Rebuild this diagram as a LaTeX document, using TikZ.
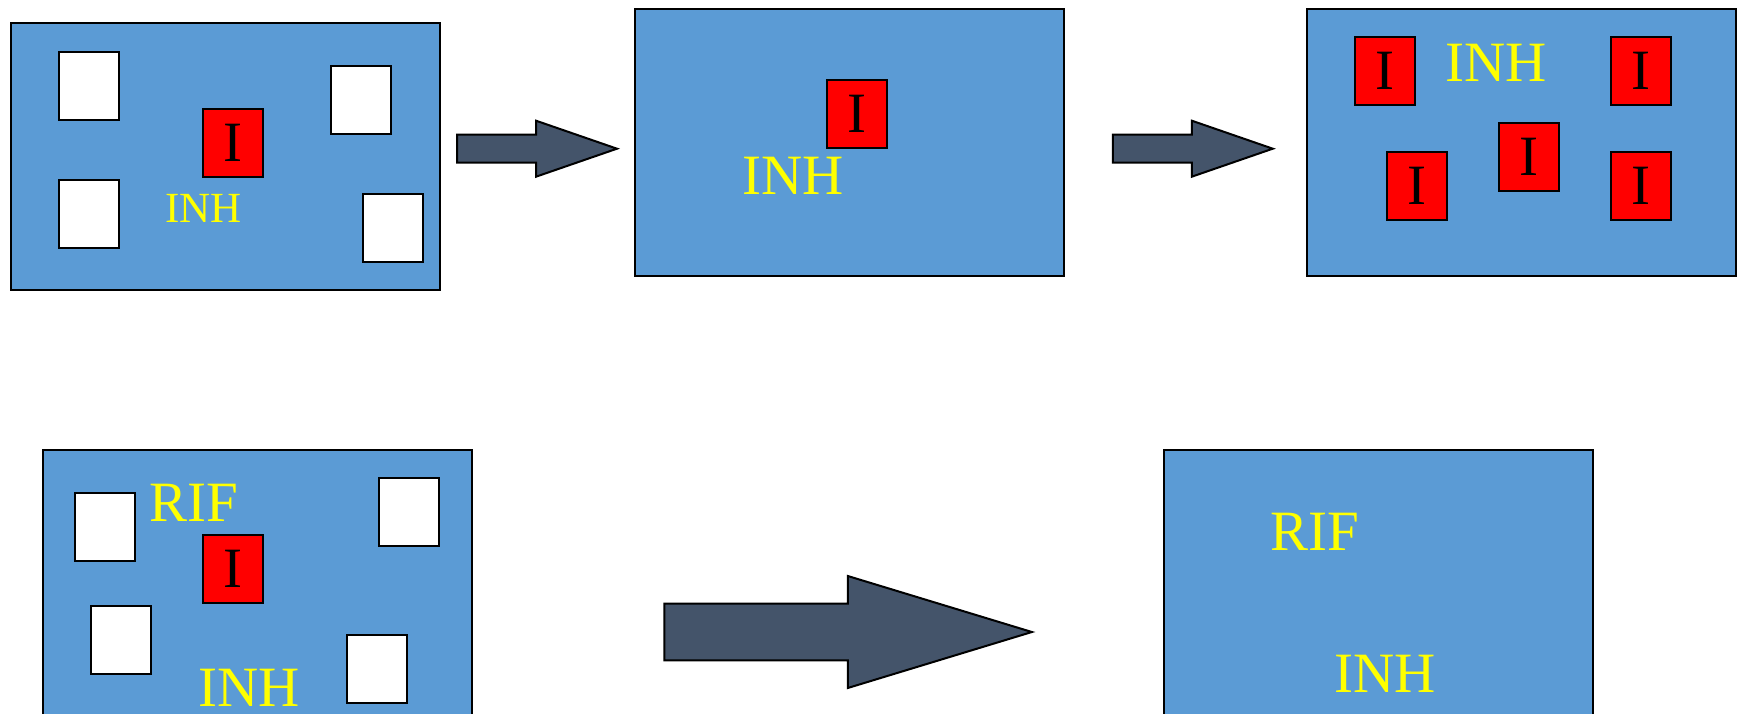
\documentclass[tikz,border=0pt]{standalone}
\usepackage{fontspec}
\setmainfont{Liberation Serif}
\definecolor{panelblue}{HTML}{5B9BD5}
\definecolor{arrowslate}{HTML}{44546A}
\definecolor{labelyellow}{HTML}{FFFF00}
\tikzset{
  panel/.style={draw=black, line width=2pt, fill=panelblue, anchor=north west, inner sep=0pt},
  cell/.style={draw=black, line width=2pt, anchor=north west, inner sep=0pt,
    minimum width=60pt, minimum height=68pt},
  emptycell/.style={cell, fill=white},
  inhcell/.style={cell, fill=red, text=black, font=\fontsize{57}{60}\selectfont},
  biglabel/.style={text=labelyellow, anchor=base, inner sep=0pt, font=\fontsize{57}{60}\selectfont},
  smalllabel/.style={text=labelyellow, anchor=base, inner sep=0pt, font=\fontsize{43}{46}\selectfont},
  blockarrow/.style={draw=black, line width=2pt, fill=arrowslate, line join=miter}
}
\begin{document}
\begin{tikzpicture}[x=1pt, y=-1pt]
\useasboundingbox (0,0) rectangle (1743,714);
\clip (0,0) rectangle (1743,714);

% top row, first panel: one inhibited cell among empty ones
\node[panel, minimum width=429pt, minimum height=267pt] (p1) at (9.7,22.3) {};
\node[emptycell] (p1a) at (58.3,51) {};
\node[emptycell] (p1b) at (330,64.7) {};
\node[emptycell] (p1c) at (58.3,179) {};
\node[emptycell] (p1d) at (361.6,193) {};
\node[inhcell] (p1i) at (202.3,108) {I};
\node[smalllabel] (p1t) at (203.5,222.7) {INH};

% top row, second panel
\node[panel, minimum width=429pt, minimum height=267pt] (p2) at (634.3,8.3) {};
\node[inhcell] (p2i) at (826,79.3) {I};
\node[biglabel] (p2t) at (792.7,195) {INH};

% top row, third panel: all cells inhibited
\node[panel, minimum width=429pt, minimum height=267pt] (p3) at (1305.9,8.3) {};
\node[inhcell] (p3a) at (1354,36.3) {I};
\node[inhcell] (p3b) at (1610.3,36.3) {I};
\node[inhcell] (p3c) at (1386.2,150.7) {I};
\node[inhcell] (p3d) at (1498.4,122.3) {I};
\node[inhcell] (p3e) at (1610.3,150.7) {I};
\node[biglabel] (p3t) at (1496.4,81.7) {INH};

% bottom row, first panel
\node[panel, minimum width=429pt, minimum height=300pt] (p4) at (42.1,449) {};
\node[emptycell] (p4a) at (74.2,491.7) {};
\node[emptycell] (p4b) at (378.2,477.3) {};
\node[emptycell] (p4c) at (90.4,605.3) {};
\node[emptycell] (p4d) at (346.2,633.7) {};
\node[inhcell] (p4i) at (202.3,534.3) {I};
\node[biglabel] (p4r) at (194,521.7) {RIF};
\node[biglabel] (p4t) at (248.7,706.7) {INH};

% bottom row, second panel
\node[panel, minimum width=429pt, minimum height=300pt] (p5) at (1163.2,449) {};
\node[biglabel] (p5r) at (1314.5,550.7) {RIF};
\node[biglabel] (p5t) at (1385,692.7) {INH};

% block arrows between the panels
\coordinate (a1) at (457,134.7);
\draw[blockarrow] (a1) -- ++(79,0) -- ++(0,-14) -- ++(81,28) -- ++(-81,28) -- ++(0,-14) -- ++(-79,0) -- cycle;
\coordinate (a2) at (1112.8,134.7);
\draw[blockarrow] (a2) -- ++(79,0) -- ++(0,-14) -- ++(81,28) -- ++(-81,28) -- ++(0,-14) -- ++(-79,0) -- cycle;
\coordinate (a3) at (664.4,603.7);
\draw[blockarrow] (a3) -- ++(183.4,0) -- ++(0,-27.7) -- ++(184.1,56) -- ++(-184.1,56) -- ++(0,-27.7) -- ++(-183.4,0) -- cycle;
\end{tikzpicture}
\end{document}
